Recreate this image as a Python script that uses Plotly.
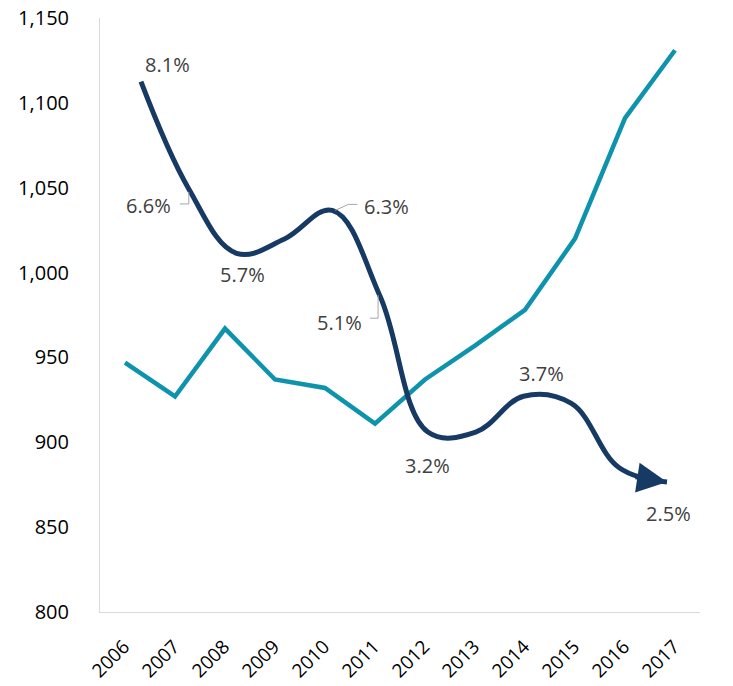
import plotly.graph_objects as go

# ---- data ----
years = [2006, 2007, 2008, 2009, 2010, 2011, 2012, 2013, 2014, 2015, 2016, 2017]
volume = [947, 927, 967, 937, 932, 911, 937, 957, 978, 1020, 1091, 1131]
growth = [8.1, 6.6, 5.7, 5.9, 6.3, 5.1, 3.2, 3.2, 3.7, 3.6, 2.7, 2.5]
labeled_years = [2006, 2007, 2008, 2010, 2011, 2012, 2014, 2017]
y_ticks = [800, 850, 900, 950, 1000, 1050, 1100, 1150]

# ---- styles ----
TEAL = "#0E93AC"
NAVY = "#173A64"
LABEL_COLOR = "#404040"
AXIS_COLOR = "#D9D9D9"
FONT = "Open Sans"
# label pixel offsets (xshift, yshift) per labeled year
label_offsets = {2006: (27, 17), 2007: (-40, -17), 2008: (6, -21), 2010: (54, 4),
                 2011: (-41, -26), 2012: (0, -33), 2014: (18, 23), 2017: (1, -31)}
# leader line paths (pixel offsets from the data point, y up)
leaders = {2007: "M0,-3 L0,-15 L-9,-15",
           2010: "M3,0 L16,6 L25,6",
           2011: "M-2,1 L-2,-22 L-10,-22"}

fig = go.Figure()

fig.add_trace(go.Scatter(
    x=years, y=volume, mode="lines",
    line=dict(color=TEAL, width=4.5),
    xaxis="x", yaxis="y", hoverinfo="x+y", showlegend=False))

fig.add_trace(go.Scatter(
    x=years, y=growth, mode="lines",
    line=dict(color=NAVY, width=5, shape="spline", smoothing=1.1),
    xaxis="x2", yaxis="y2", showlegend=False))

annotations = []
for yr in labeled_years:
    v = growth[years.index(yr)]
    dx, dy = label_offsets[yr]
    annotations.append(dict(
        x=yr, y=v, xref="x2", yref="y2", text=f"{v:.1f}%", showarrow=False,
        xshift=dx, yshift=dy, font=dict(family=FONT, size=20, color=LABEL_COLOR)))

# arrow head at the end of the growth curve
annotations.append(dict(
    x=years[-1], y=growth[-1], xref="x2", yref="y2", text="",
    showarrow=True, arrowhead=2, arrowsize=1.5, arrowwidth=4, arrowcolor=NAVY,
    ax=-33, ay=-5, standoff=0))

shapes = []
for yr, path in leaders.items():
    shapes.append(dict(
        type="path", xref="x2", yref="y2", xsizemode="pixel", ysizemode="pixel",
        xanchor=yr, yanchor=growth[years.index(yr)], path=path,
        line=dict(color="#A6A6A6", width=1)))

fig.update_layout(
    width=733, height=686,
    margin=dict(l=100, r=33, t=18, b=74),
    paper_bgcolor="white", plot_bgcolor="white",
    font=dict(family=FONT, size=20, color="black"),
    showlegend=False,
    annotations=annotations,
    shapes=shapes,
    xaxis=dict(range=[2005.5, 2017.5], tickvals=years, ticktext=[str(y) for y in years],
               tickangle=-45, showgrid=False, zeroline=False, showline=True,
               linecolor=AXIS_COLOR, linewidth=1, ticks="", automargin=False,
               ticklabelstandoff=15, ticklabelshift=-1,
               tickfont=dict(family=FONT, size=19, color="black")),
    yaxis=dict(range=[800, 1150], tickvals=y_ticks, tickformat=",d",
               showgrid=False, zeroline=False, showline=True, automargin=False,
               linecolor=AXIS_COLOR, linewidth=1, ticks="", ticklabelstandoff=26,
               tickfont=dict(family=FONT, size=20, color="black")),
    xaxis2=dict(range=[2005.143, 2017.69], overlaying="x", visible=False),
    yaxis2=dict(range=[0.683, 8.991], overlaying="y", visible=False),
)

fig.write_html("out.html", config={"displayModeBar": False},
               post_script="document.body.style.margin='0';document.body.style.overflow='hidden';")
